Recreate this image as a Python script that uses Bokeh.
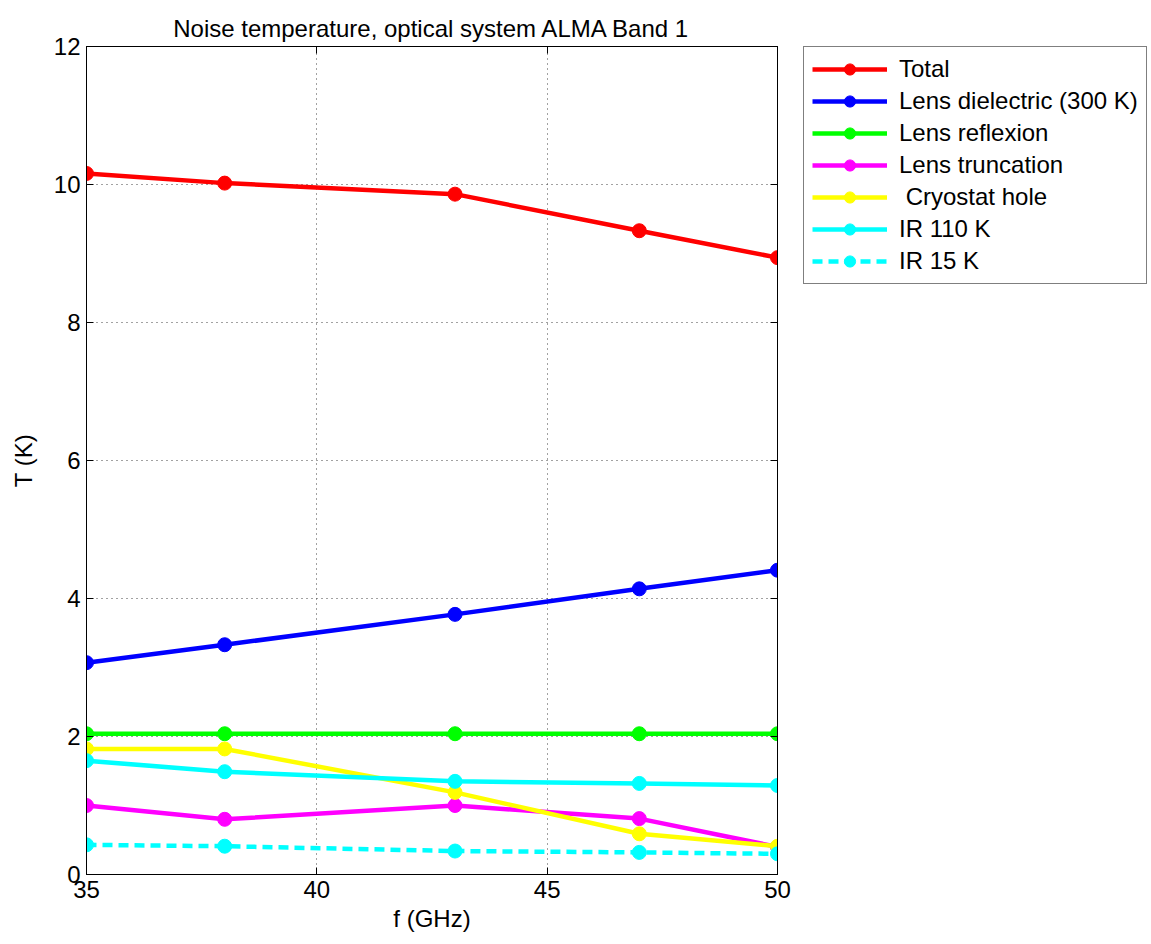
from bokeh.plotting import figure
from bokeh.layouts import row
from bokeh.models import Range1d, FixedTicker, LinearAxis, Legend, LegendItem
from bokeh.embed import file_html
from bokeh.resources import INLINE

freq = [35, 38, 43, 47, 50]
total = [10.16, 10.02, 9.86, 9.33, 8.94]
lens_dielectric = [3.07, 3.33, 3.77, 4.14, 4.41]
lens_reflexion = [2.04, 2.04, 2.04, 2.04, 2.04]
lens_truncation = [1.00, 0.80, 1.00, 0.81, 0.40]
cryostat_hole = [1.82, 1.82, 1.19, 0.59, 0.41]
ir_110k = [1.65, 1.49, 1.35, 1.32, 1.29]
ir_15k = [0.43, 0.41, 0.34, 0.32, 0.30]

series_names = ["Total", "Lens dielectric (300 K)", "Lens reflexion", "Lens truncation",
                " Cryostat hole", "IR 110 K", "IR 15 K"]
series_values = [total, lens_dielectric, lens_reflexion, lens_truncation,
                 cryostat_hole, ir_110k, ir_15k]
series_colors = ["#ff0000", "#0000ff", "#00ff00", "#ff00ff", "#ffff00", "#00ffff", "#00ffff"]
series_dash = ["solid", "solid", "solid", "solid", "solid", "solid", "10 6"]

x_ticks = [35, 40, 45, 50]
y_ticks = [0, 2, 4, 6, 8, 10, 12]

FONT = "Liberation Sans"
LW = 4.5
MS = 14
NAN = float("nan")

p = figure(width=800, height=936, output_backend="svg", toolbar_location=None,
           x_range=Range1d(35, 50), y_range=Range1d(0, 12),
           min_border_left=86, min_border_right=23, min_border_top=46, min_border_bottom=62,
           title="Noise temperature, optical system ALMA Band 1")
p.title.align = "center"
p.title.text_font = FONT
p.title.text_font_size = "24px"
p.title.text_font_style = "normal"
p.title.text_color = "#000000"

p.outline_line_color = "#000000"
p.outline_line_width = 1
p.outline_line_alpha = 1

for ax in (p.xaxis[0], p.yaxis[0]):
    ax.major_tick_in = 7
    ax.major_tick_out = 0
    ax.minor_tick_line_color = None
    ax.axis_line_color = "#000000"
    ax.major_tick_line_color = "#000000"
    ax.major_label_text_font = FONT
    ax.major_label_text_font_size = "24px"
    ax.major_label_text_color = "#000000"
    ax.axis_label_text_font = FONT
    ax.axis_label_text_font_size = "24px"
    ax.axis_label_text_font_style = "normal"
    ax.axis_label_text_color = "#000000"

p.xaxis.ticker = FixedTicker(ticks=x_ticks)
p.yaxis.ticker = FixedTicker(ticks=y_ticks)
p.xaxis.axis_label = "f (GHz)"
p.yaxis.axis_label = "T (K)"
p.xaxis.major_label_standoff = 6
p.yaxis.major_label_standoff = 6
p.xaxis.axis_label_standoff = 4
p.yaxis.axis_label_standoff = 14

# mirrored ticks (MATLAB box)
right_axis = LinearAxis(ticker=FixedTicker(ticks=y_ticks), major_tick_in=7, major_tick_out=0,
                        minor_tick_line_color=None, major_label_text_color=None,
                        major_label_text_font_size="1px", major_label_standoff=0,
                        axis_line_color="#000000")
p.add_layout(right_axis, "right")
top_axis = LinearAxis(ticker=FixedTicker(ticks=x_ticks), major_tick_in=7, major_tick_out=0,
                      minor_tick_line_color=None, major_label_text_color=None,
                      major_label_text_font_size="1px", major_label_standoff=0,
                      axis_line_color="#000000")
p.add_layout(top_axis, "above")

p.grid.grid_line_color = "#444444"
p.grid.grid_line_dash = "1 4"
p.grid.grid_line_width = 1
p.xgrid.ticker = FixedTicker(ticks=[40, 45])
p.ygrid.ticker = FixedTicker(ticks=[2, 4, 6, 8, 10])

for vals, col, dash in zip(series_values, series_colors, series_dash):
    p.line(freq, vals, line_color=col, line_width=LW, line_dash=dash)
    p.scatter(freq, vals, marker="circle", size=MS, fill_color=col, line_color=col)

# legend panel (separate canvas to the right of the axes box)
pl = figure(width=348, height=936, output_backend="svg", toolbar_location=None,
            x_axis_type=None, y_axis_type=None,
            x_range=Range1d(0, 1), y_range=Range1d(0, 1),
            min_border_left=3, min_border_right=0, min_border_top=45, min_border_bottom=0)
pl.outline_line_color = None
pl.grid.visible = False

items = []
for name, col, dash in zip(series_names, series_colors, series_dash):
    l = pl.line([NAN], [NAN], line_color=col, line_width=LW, line_dash=dash)
    s = pl.scatter([NAN], [NAN], marker="circle", size=MS, fill_color=col, line_color=col)
    items.append(LegendItem(label=name, renderers=[l, s]))

legend = Legend(items=items, location="top_left")
legend.label_text_font = FONT
legend.label_text_font_size = "24px"
legend.label_text_color = "#000000"
legend.glyph_width = 75
legend.glyph_height = 28
legend.label_height = 28
legend.label_standoff = 12
legend.spacing = 4
legend.padding = 8
legend.margin = 0
legend.border_line_color = "#000000"
legend.border_line_width = 1
legend.background_fill_alpha = 1
pl.add_layout(legend, "center")

layout = row(p, pl, spacing=0)
open("out.html", "w").write(file_html(layout, INLINE))
